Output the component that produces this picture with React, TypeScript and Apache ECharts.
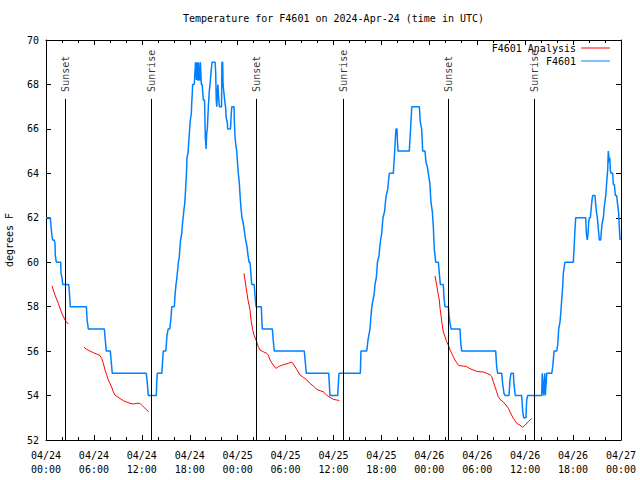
import React, { useEffect, useRef } from 'react';
import * as echarts from 'echarts';

// Hours since 2024-04-24 00:00 UTC
const xTickLabels = [
  '04/24\n00:00', '04/24\n06:00', '04/24\n12:00', '04/24\n18:00',
  '04/25\n00:00', '04/25\n06:00', '04/25\n12:00', '04/25\n18:00',
  '04/26\n00:00', '04/26\n06:00', '04/26\n12:00', '04/26\n18:00',
  '04/27\n00:00',
];

const sunNames = ['Sunset', 'Sunrise', 'Sunset', 'Sunrise', 'Sunset', 'Sunrise'];
const sunHours = [2.42, 13.19, 26.33, 37.23, 50.38, 61.14];

const analysisSeg1 = [
  [0.75, 58.93], [1.13, 58.52], [1.54, 58.15], [1.97, 57.71], [2.38, 57.4], [2.79, 57.22],
];
const analysisSeg2 = [
  [4.76, 56.17], [5.1, 56.08], [5.51, 56.0], [5.93, 55.93], [6.35, 55.87], [6.76, 55.8],
  [6.97, 55.67], [7.18, 55.45], [7.39, 55.15], [7.6, 54.93], [7.8, 54.7], [8.01, 54.55],
  [8.23, 54.37], [8.43, 54.17], [8.64, 54.02], [9.27, 53.87], [9.68, 53.77], [10.1, 53.71],
  [10.52, 53.65], [10.93, 53.62], [11.36, 53.65], [11.77, 53.65], [12.18, 53.5],
  [12.52, 53.38], [12.86, 53.27],
];
const analysisSeg3 = [
  [24.79, 59.5], [24.92, 59.2], [25.04, 58.9], [25.17, 58.6], [25.29, 58.3], [25.54, 57.88],
  [25.67, 57.4], [25.88, 56.95], [26.05, 56.72], [26.3, 56.5], [26.58, 56.2], [26.8, 56.05],
  [27.21, 55.97], [27.64, 55.9], [27.84, 55.82], [28.05, 55.6], [28.46, 55.37], [28.8, 55.22],
  [29.09, 55.3], [29.51, 55.36], [29.93, 55.41], [30.34, 55.45], [30.77, 55.51], [30.97, 55.42],
  [31.39, 55.18], [31.81, 54.92], [32.22, 54.82], [32.65, 54.7], [33.06, 54.55], [33.47, 54.43],
  [33.9, 54.28], [34.31, 54.22], [34.72, 54.17], [35.15, 54.02], [35.56, 53.92], [35.97, 53.83],
  [36.4, 53.8], [36.73, 53.78],
];
const analysisSeg4 = [
  [48.71, 59.38], [48.92, 58.98], [49.05, 58.67], [49.25, 58.3], [49.34, 57.92], [49.46, 57.62],
  [49.59, 57.25], [49.75, 56.87], [49.96, 56.65], [50.17, 56.42], [50.38, 56.27], [50.59, 56.05],
  [50.8, 55.9], [51.0, 55.75], [51.21, 55.6], [51.43, 55.48], [51.63, 55.37], [51.84, 55.34],
  [52.25, 55.33], [52.68, 55.3], [53.09, 55.21], [53.5, 55.15], [53.93, 55.09], [54.35, 55.07],
  [54.76, 55.06], [55.18, 55.0], [55.6, 54.94], [55.81, 54.85], [56.01, 54.62], [56.22, 54.4],
  [56.43, 54.17], [56.64, 53.95], [56.85, 53.83], [57.26, 53.71], [57.69, 53.53], [57.89, 53.43],
  [58.1, 53.27], [58.31, 53.12], [58.52, 52.97], [58.73, 52.87], [58.94, 52.75], [59.35, 52.67],
  [59.69, 52.57], [59.98, 52.67], [60.39, 52.82], [60.82, 52.97],
];
const analysisSegments = [analysisSeg1, analysisSeg2, analysisSeg3, analysisSeg4];

const observed = [
  [0, 62], [0.54, 62], [0.71, 61.3], [0.79, 61.3], [0.82, 61], [1.04, 61], [1.13, 60.8], [1.17, 60.3],
  [1.29, 60], [1.84, 60], [1.88, 59.5], [2.0, 59.3], [2.09, 59], [2.84, 59], [2.92, 58.7], [3.04, 58],
  [5.05, 58], [5.15, 57.4], [5.3, 57], [7.3, 57], [7.45, 56.4], [7.55, 56], [8.05, 56], [8.2, 55.4],
  [8.3, 55], [12.56, 55], [12.7, 54.5], [12.81, 54], [13.81, 54], [13.88, 54.7], [13.94, 55], [14.5, 55],
  [14.68, 56], [15.0, 56], [15.15, 56.7], [15.3, 57], [15.5, 57], [15.65, 57.5], [15.75, 58], [16.07, 58],
  [16.15, 58.5], [16.28, 59], [16.36, 59.2], [16.5, 59.7], [16.57, 60], [16.68, 60.2], [16.78, 60.7],
  [16.85, 61], [17.0, 61.3], [17.08, 61.7], [17.2, 62.1], [17.28, 62.4], [17.36, 62.6], [17.45, 63.1],
  [17.53, 63.6], [17.6, 64.1], [17.65, 64.7], [17.78, 64.9], [17.87, 65.4], [17.95, 65.8], [18.07, 66.4],
  [18.2, 66.7], [18.25, 67.2], [18.32, 67.6], [18.36, 68], [18.55, 68], [18.6, 68.2], [18.68, 68.2],
  [18.72, 69], [18.8, 69], [18.83, 68.2], [18.88, 68.2], [18.9, 69], [18.95, 69], [18.98, 68.2],
  [19.07, 68.2], [19.1, 69], [19.17, 69], [19.2, 68.2], [19.3, 68.2], [19.33, 69], [19.4, 69],
  [19.45, 68], [19.55, 68], [19.7, 67.3], [19.85, 67.3], [19.95, 65.6], [20.05, 65.1], [20.12, 65.8],
  [20.2, 66], [20.33, 67], [20.45, 67.7], [20.54, 68], [20.68, 68.6], [20.79, 69], [21.18, 69],
  [21.25, 68.5], [21.32, 67.3], [21.38, 67], [21.46, 67.6], [21.52, 68], [21.6, 68], [21.66, 67.2],
  [21.72, 67], [21.98, 67], [22.03, 69], [22.12, 69], [22.17, 68], [22.25, 68], [22.4, 67.2],
  [22.48, 67], [22.56, 66.5], [22.7, 66.3], [22.75, 66], [23.1, 66], [23.2, 66.7], [23.27, 67],
  [23.54, 67], [23.6, 66.2], [23.67, 65.6], [23.8, 65.2], [23.88, 65], [24.0, 64.4], [24.08, 64],
  [24.2, 63.6], [24.3, 63], [24.4, 62.5], [24.54, 62], [24.67, 61.8], [24.8, 61.5], [25.0, 61],
  [25.17, 60.7], [25.3, 60.3], [25.42, 60], [25.55, 60], [25.65, 59.5], [25.76, 59], [26.07, 59],
  [26.17, 58.5], [26.3, 58], [26.96, 58], [27.02, 57.5], [27.08, 57], [28.34, 57], [28.45, 56.5],
  [28.59, 56], [32.34, 56], [32.47, 55.5], [32.6, 55], [35.4, 55], [35.48, 54.5], [35.56, 54],
  [36.53, 54], [36.6, 54.5], [36.69, 55], [39.36, 55], [39.4, 55.5], [39.44, 56], [40.16, 56],
  [40.32, 56.5], [40.57, 57], [40.7, 57.6], [40.8, 58], [40.95, 58.3], [41.1, 58.6], [41.2, 59],
  [41.36, 59.3], [41.45, 59.7], [41.5, 60], [41.7, 60.3], [41.8, 60.7], [41.9, 61], [42.04, 61.3],
  [42.12, 61.7], [42.2, 62], [42.4, 62.3], [42.5, 62.7], [42.6, 63], [42.8, 63.3], [42.9, 63.7],
  [43.0, 64], [43.49, 64], [43.58, 64.5], [43.66, 65], [43.73, 65.5], [43.83, 66], [43.95, 66],
  [44.0, 65.5], [44.08, 65], [45.49, 65], [45.62, 65.8], [45.8, 67], [46.75, 67], [46.87, 66.3],
  [47.04, 66], [47.17, 65], [47.46, 65], [47.58, 64.5], [47.75, 64.3], [47.96, 63.8], [48.08, 63.5],
  [48.2, 62.7], [48.37, 62.3], [48.5, 61.6], [48.62, 60.6], [48.8, 60], [49.13, 60], [49.25, 59.5],
  [49.38, 59], [49.75, 59], [49.84, 58.4], [49.96, 58], [50.38, 58], [50.5, 57.5], [50.71, 57],
  [51.84, 57], [51.93, 56.4], [52.05, 56], [56.31, 56], [56.43, 55.3], [56.56, 55], [57.06, 55],
  [57.19, 54.5], [57.35, 54.1], [57.48, 54], [57.98, 54], [58.1, 54.7], [58.23, 55], [58.52, 55],
  [58.6, 54.5], [58.77, 54], [59.56, 54], [59.69, 53.3], [59.82, 53], [60.1, 53], [60.19, 53.8],
  [60.31, 54], [62.07, 54], [62.14, 55], [62.22, 55], [62.3, 54], [62.38, 54], [62.45, 55],
  [62.52, 54], [62.6, 54], [62.7, 55], [63.33, 55], [63.45, 55.3], [63.62, 56], [63.95, 56],
  [64.08, 56.3], [64.2, 57], [64.36, 57.3], [64.48, 57.8], [64.57, 58.3], [64.7, 58.9], [64.78, 59.5],
  [64.98, 60], [66.03, 60], [66.12, 60.6], [66.24, 61.5], [66.33, 62], [67.58, 62], [67.66, 61.3],
  [67.78, 61], [67.87, 61.3], [67.96, 61.8], [68.04, 62], [68.16, 62], [68.24, 62.3], [68.37, 62.8],
  [68.45, 63], [68.74, 63], [68.83, 62.6], [68.91, 62.3], [69.04, 62], [69.16, 61.5], [69.29, 61],
  [69.46, 61], [69.54, 61.4], [69.66, 61.8], [69.79, 62], [69.91, 62.5], [70.09, 63], [70.21, 63.6],
  [70.34, 64.2], [70.41, 65], [70.54, 64.5], [70.6, 64.7], [70.67, 64.1], [70.79, 64], [70.96, 64],
  [71.04, 63.5], [71.17, 63.5], [71.29, 63], [71.46, 63], [71.54, 62.7], [71.62, 62.5], [71.71, 62.2],
  [71.79, 61.6], [71.87, 61],
];

const FONT = 'DejaVu Sans Mono';

export default function App() {
  const ref = useRef<HTMLDivElement>(null);

  useEffect(() => {
    const chart = echarts.init(ref.current!, null, { renderer: 'svg' });
    const yMin = 52;
    const yMax = 70;
    const sunLineTop = 67.35;
    const txt = { fontFamily: FONT, fontSize: 10, color: '#000' };

    const baseX = {
      type: 'value',
      min: 0,
      max: 72,
      interval: 6,
      axisLine: { onZero: false, lineStyle: { color: '#000', width: 1 } },
      axisTick: { inside: true, length: 5, lineStyle: { color: '#000' } },
      minorTick: { show: true, splitNumber: 3, length: 3, lineStyle: { color: '#000' } },
      splitLine: { show: false },
      minorSplitLine: { show: false },
    };
    const baseY = {
      type: 'value',
      min: yMin,
      max: yMax,
      interval: 2,
      axisLine: { onZero: false, lineStyle: { color: '#000', width: 1 } },
      axisTick: { inside: true, length: 5, lineStyle: { color: '#000' } },
      splitLine: { show: false },
    };

    const analysisSeries = analysisSegments.map((seg) => ({
      type: 'line',
      name: 'F4601 Analysis',
      data: seg,
      showSymbol: false,
      symbol: 'none',
      lineStyle: { color: '#ff0000', width: 1 },
      itemStyle: { color: '#ff0000' },
      z: 3,
    }));

    chart.setOption({
      animation: false,
      title: {
        text: 'Temperature for F4601 on 2024-Apr-24 (time in UTC)',
        left: 183,
        top: 13,
        padding: 0,
        textStyle: { ...txt, fontWeight: 'normal' },
      },
      legend: [
        {
          data: ['F4601 Analysis'],
          right: 30,
          top: 43,
          padding: 0,
          align: 'right',
          icon: 'rect',
          itemWidth: 29,
          itemHeight: 1,
          textStyle: txt,
          selectedMode: false,
        },
        {
          data: ['F4601'],
          right: 30,
          top: 56,
          padding: 0,
          align: 'right',
          icon: 'rect',
          itemWidth: 29,
          itemHeight: 1,
          textStyle: txt,
          selectedMode: false,
        },
      ],
      grid: {
        left: 46,
        right: 19,
        top: 40,
        bottom: 40,
        containLabel: false,
        outerBoundsMode: 'none',
      },
      xAxis: [
        {
          ...baseX,
          position: 'bottom',
          axisLabel: {
            ...txt,
            lineHeight: 14,
            margin: 8,
            formatter: (v: number) => xTickLabels[Math.round(v / 6)] ?? '',
          },
        },
        { ...baseX, position: 'top', axisLabel: { show: false } },
      ],
      yAxis: [
        {
          ...baseY,
          position: 'left',
          name: 'degrees F',
          nameLocation: 'middle',
          nameRotate: 90,
          nameGap: 32,
          nameTextStyle: txt,
          axisLabel: { ...txt, margin: 7 },
        },
        { ...baseY, position: 'right', axisLabel: { show: false } },
      ],
      series: [
        {
          type: 'scatter',
          name: 'sun',
          symbolSize: 0,
          silent: true,
          data: sunHours.map((h, i) => [h, sunLineTop, sunNames[i]]),
          label: {
            show: true,
            ...txt,
            formatter: (p: any) => p.data[2],
            position: 'top',
            distance: 7,
            rotate: 90,
            align: 'left',
            verticalAlign: 'middle',
          },
          markLine: {
            silent: true,
            symbol: 'none',
            label: { show: false },
            lineStyle: { color: '#000', width: 1, type: 'solid' },
            data: sunHours.map((h) => [
              { coord: [h, sunLineTop] },
              { coord: [h, yMin] },
            ]),
          },
          z: 1,
        },
        ...analysisSeries,
        {
          type: 'line',
          name: 'F4601',
          data: observed,
          showSymbol: false,
          symbol: 'none',
          lineStyle: { color: '#0080ff', width: 1.5 },
          itemStyle: { color: '#0080ff' },
          z: 2,
        },
      ],
    });

    return () => chart.dispose();
  }, []);

  return (
    <div
      ref={ref}
      style={{ position: 'absolute', left: 0, top: 0, width: 640, height: 480 }}
    />
  );
}
